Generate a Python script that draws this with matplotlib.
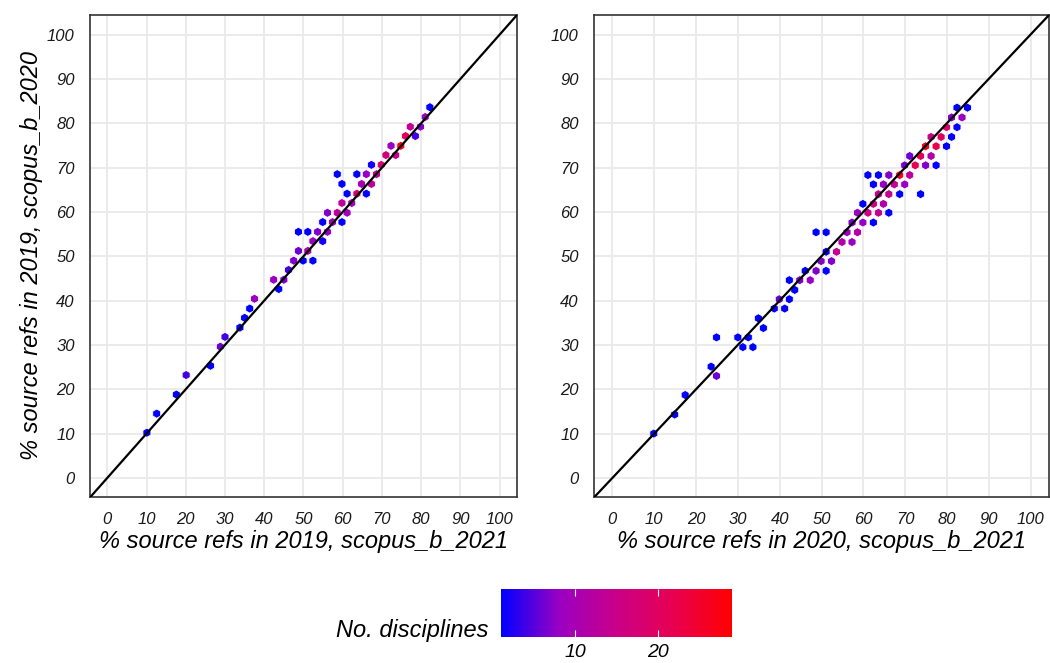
import matplotlib.pyplot as plt
import numpy as np
from matplotlib.colors import LinearSegmentedColormap, Normalize
from matplotlib.cm import ScalarMappable

plt.rcParams['font.family'] = ['Liberation Sans', 'DejaVu Sans']
plt.rcParams['font.style'] = 'italic'

# left panel: hex centres (% refs) and number of disciplines per hex
x_left = [82.2, 81.0, 79.8, 77.2, 78.5, 76.0, 74.8, 72.3, 73.5, 71.0, 69.8, 67.3,
          68.6, 66.0, 63.6, 58.6, 59.8, 64.8, 67.3, 61.1, 63.6, 66.0, 59.8, 62.3,
          56.1, 58.6, 61.1, 54.9, 57.4, 59.8, 48.7, 51.1, 53.6, 56.1, 52.4, 54.9,
          48.7, 51.1, 47.5, 49.9, 52.4, 46.2, 42.4, 45.0, 43.7, 37.5, 36.3, 35.0,
          33.8, 30.0, 28.8, 26.3, 20.1, 17.6, 12.6, 10.1]
y_left = [83.6, 81.4, 79.2, 79.2, 77.1, 77.1, 74.9, 74.9, 72.8, 72.8, 70.6, 70.6,
          68.5, 68.5, 68.5, 68.5, 66.3, 66.3, 66.3, 64.1, 64.1, 64.1, 62.0, 62.0,
          59.8, 59.8, 59.8, 57.7, 57.7, 57.7, 55.5, 55.5, 55.5, 55.5, 53.4, 53.4,
          51.2, 51.2, 49.0, 49.0, 49.0, 46.9, 44.7, 44.7, 42.6, 40.4, 38.2, 36.1,
          33.9, 31.8, 29.6, 25.3, 23.2, 18.8, 14.5, 10.2]
n_left = [1, 8, 7, 14, 4, 21, 27, 8, 15, 16, 18, 2,
          14, 8, 1, 1, 1, 10, 13, 1, 18, 1, 13, 9,
          7, 13, 9, 1, 9, 1, 1, 1, 7, 8, 8, 2,
          6, 11, 7, 1, 1, 4, 8, 7, 1, 8, 1, 1,
          1, 4, 6, 1, 4, 1, 1, 1]

# right panel
x_right = [82.4, 84.9, 81.1, 83.6, 79.9, 82.4, 76.2, 78.6, 81.1, 74.9, 77.4, 79.9,
           71.1, 73.7, 76.2, 69.9, 72.4, 74.9, 77.4, 61.1, 63.6, 66.1, 68.7, 71.1,
           62.4, 64.8, 67.4, 69.9, 63.6, 66.1, 68.7, 73.7, 59.9, 62.4, 64.8, 58.6,
           61.1, 63.6, 66.1, 57.3, 59.9, 62.4, 48.7, 51.1, 56.1, 58.6, 54.9, 57.3,
           51.1, 53.6, 49.9, 52.4, 46.1, 48.7, 51.1, 42.3, 44.8, 47.3, 43.6, 39.9,
           42.3, 38.7, 41.2, 34.9, 36.1, 24.9, 30.0, 32.5, 31.2, 33.6, 23.6, 24.9,
           17.4, 14.9, 9.9]
y_right = [83.5, 83.5, 81.3, 81.3, 79.1, 79.1, 76.9, 76.9, 76.9, 74.8, 74.8, 74.8,
           72.6, 72.6, 72.6, 70.5, 70.5, 70.5, 70.5, 68.3, 68.3, 68.3, 68.3, 68.3,
           66.2, 66.2, 66.2, 66.2, 64.0, 64.0, 64.0, 64.0, 61.8, 61.8, 61.8, 59.8,
           59.8, 59.8, 59.8, 57.6, 57.6, 57.6, 55.4, 55.4, 55.4, 55.4, 53.2, 53.2,
           51.0, 51.0, 48.9, 48.9, 46.7, 46.7, 46.7, 44.6, 44.6, 44.6, 42.4, 40.3,
           40.3, 38.2, 38.2, 36.0, 33.8, 31.7, 31.7, 31.7, 29.5, 29.5, 25.1, 23.0,
           18.7, 14.3, 10.0]
n_right = [1, 1, 7, 8, 20, 1, 15, 20, 1, 27, 22, 1,
           6, 21, 11, 6, 22, 7, 1, 1, 1, 7, 26, 13,
           1, 8, 14, 8, 14, 14, 1, 1, 1, 16, 11, 8,
           15, 14, 1, 7, 8, 1, 1, 1, 8, 11, 11, 8,
           1, 14, 7, 7, 1, 7, 1, 1, 7, 8, 1, 6,
           1, 1, 1, 1, 1, 1, 1, 1, 1, 1, 1, 6,
           1, 1, 1]

ticks = np.arange(0, 101, 10)
n_min, n_max = 1, 29

# blue -> red, roughly what ggplot gives (interpolated in Lab)
cmap = LinearSegmentedColormap.from_list(
    'bluered', ['#0000FF', '#9A00C3', '#CA0088', '#E80050', '#FF0000'])
norm = Normalize(n_min, n_max)


def hex_panel(ax, x, y, n):
    ax.scatter(x, y, c=n, cmap=cmap, norm=norm, marker='h', s=44,
               edgecolors='white', linewidths=0.6, zorder=2)
    ax.axline((0, 0), slope=1, color='black', lw=1.6, zorder=3)
    ax.set_xlim(-4.4, 104.4)
    ax.set_ylim(-4.3, 104.4)
    ax.set_xticks(ticks)
    ax.set_yticks(ticks)
    ax.grid(True, color='#EBEBEB', lw=1.4, zorder=0)
    ax.set_axisbelow(True)
    ax.tick_params(length=0, labelsize=12, labelcolor='#1a1a1a')
    ax.tick_params(axis='x', pad=11)
    ax.tick_params(axis='y', pad=11)
    for s in ax.spines.values():
        s.set_color('#333333')
        s.set_linewidth(1.2)


fig = plt.figure(figsize=(10.5, 6.63), dpi=100)
ax1 = fig.add_axes([90 / 1050, 1 - 497 / 663, 427 / 1050, 482 / 663])
ax2 = fig.add_axes([594 / 1050, 1 - 497 / 663, 455 / 1050, 482 / 663])

hex_panel(ax1, x_left, y_left, n_left)
hex_panel(ax2, x_right, y_right, n_right)

ax1.set_xlabel('% source refs in 2019, scopus_b_2021', size=17, labelpad=2)
ax1.set_ylabel('% source refs in 2019, scopus_b_2020', size=17, labelpad=3)
ax2.set_xlabel('% source refs in 2020, scopus_b_2021', size=17, labelpad=2)

# colour bar legend
cax = fig.add_axes([501 / 1050, 1 - 637 / 663, 231 / 1050, 48 / 663])
cb = fig.colorbar(ScalarMappable(norm=norm, cmap=cmap),
                  cax=cax, orientation='horizontal')
cb.outline.set_visible(False)
cb.set_ticks([10, 20])
cax.tick_params(axis='x', direction='in', color='white', length=5, width=0.8,
                top=True, bottom=True, labeltop=False, labelbottom=True,
                labelsize=14, pad=5)
fig.text(489 / 1050, 1 - 631 / 663, 'No. disciplines', ha='right', va='center',
         size=17)

fig.savefig('out.png', dpi=100)
